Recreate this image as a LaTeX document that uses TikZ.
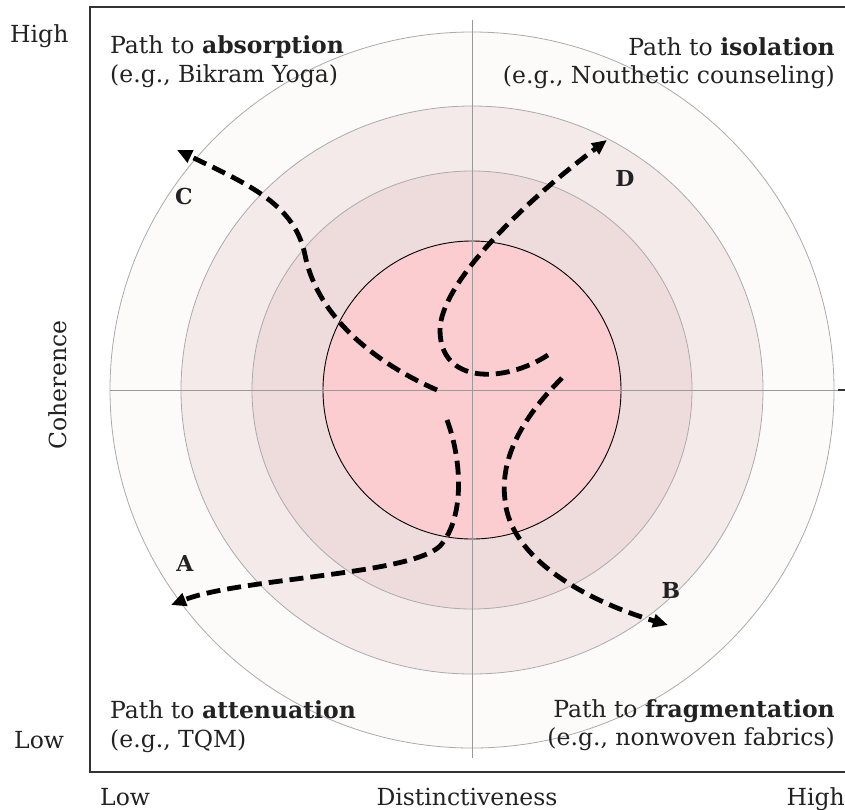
\documentclass[tikz,border=0pt]{standalone}
\usepackage{fontspec}
\setmainfont{DejaVu Serif}
\usetikzlibrary{arrows.meta}

\definecolor{ringA}{HTML}{FDFAFA}
\definecolor{ringB}{HTML}{F5EAEA}
\definecolor{ringC}{HTML}{EEDCDD}
\definecolor{coreFill}{HTML}{FBCDD0}
\definecolor{ringLine}{HTML}{ABABAB}
\definecolor{axisLine}{HTML}{999999}
\definecolor{frameLine}{HTML}{333333}
\definecolor{txt}{HTML}{222222}

\tikzset{
  lbl/.style={font=\fontsize{23.5}{27}\selectfont, text=txt, inner sep=0pt},
  letter/.style={font=\fontsize{22}{26}\selectfont\bfseries, text=txt, inner sep=0pt},
  pathline/.style={line width=4.8pt, dash pattern=on 14pt off 7pt,
    -{Triangle[length=15pt,width=13pt]}},
  ring/.style={draw=ringLine, line width=0.8pt},
  axis/.style={draw=axisLine, line width=0.8pt},
}

\begin{document}
\begin{tikzpicture}[x=1pt,y=-1pt]
\useasboundingbox (0,0) rectangle (845,809);

% concentric rings around the centre
\coordinate (O) at (472,390);
\fill[ringA] (O) ellipse [x radius=362, y radius=358];
\draw[ring] (O) ellipse [x radius=362, y radius=358];
\fill[ringB] (O) ellipse [x radius=291, y radius=284];
\draw[ring] (O) ellipse [x radius=291, y radius=284];
\fill[ringC] (O) ellipse [x radius=220, y radius=219];
\draw[ring] (O) ellipse [x radius=220, y radius=219];
\fill[coreFill] (O) circle (149);
\draw[black, line width=0.9pt] (O) circle (149);

% axes through the centre
\coordinate (axL) at (110,390);
\coordinate (axR) at (845,390);
\coordinate (axT) at (472,20);
\coordinate (axB) at (472,758);
\draw[axis] (axL) -- (axR);
\draw[axis] (axT) -- (axB);
\draw[frameLine, line width=1.6pt] (838,390) -- (845,390);

% frame
\coordinate (fTL) at (90,7);
\coordinate (fTR) at (850,7);
\coordinate (fBL) at (90,772);
\coordinate (fBR) at (850,772);
\draw[frameLine, line width=1.8pt] (fTR) -- (fTL) -- (fBL) -- (fBR);

% dashed development paths
\coordinate (cS) at (437,390);
\coordinate (cM) at (305,255);
\coordinate (cE) at (177,150);
\draw[pathline] (cS) .. controls (380,365) and (318,320) .. (cM)
  .. controls (295,205) and (250,185) .. (cE);

\coordinate (dS) at (548,355);
\coordinate (dM) at (440,330);
\coordinate (dE) at (607,140);
\draw[pathline] (dS) .. controls (505,383) and (440,385) .. (dM)
  .. controls (440,285) and (520,205) .. (dE);

\coordinate (bS) at (562,378);
\coordinate (bM) at (505,500);
\coordinate (bE) at (668,625);
\draw[pathline] (bS) .. controls (520,420) and (500,460) .. (bM)
  .. controls (510,560) and (590,602) .. (bE);

\coordinate (aS) at (447,420);
\coordinate (aM) at (440,546);
\coordinate (aE) at (171,605);
\draw[pathline] (aS) .. controls (462,460) and (465,518) .. (aM)
  .. controls (410,575) and (240,578) .. (aE);

% path letters
\node[letter] (lC) at (184,196) {C};
\node[letter] (lD) at (625,178) {D};
\node[letter] (lA) at (185,563) {A};
\node[letter] (lB) at (671,590) {B};

% quadrant captions
\node[lbl, anchor=base west] (q1a) at (110,53) {Path to \textbf{absorption}};
\node[lbl, anchor=base west] (q1b) at (110,82) {(e.g., Bikram Yoga)};
\node[lbl, anchor=base east] (q2a) at (835,55) {Path to \textbf{isolation}};
\node[lbl, anchor=base east] (q2b) at (835,83) {(e.g., Nouthetic counseling)};
\node[lbl, anchor=base west] (q3a) at (110,718) {Path to \textbf{attenuation}};
\node[lbl, anchor=base west] (q3b) at (110,747) {(e.g., TQM)};
\node[lbl, anchor=base east] (q4a) at (835,717) {Path to \textbf{fragmentation}};
\node[lbl, anchor=base east] (q4b) at (835,745) {(e.g., nonwoven fabrics)};

% axis captions
\node[lbl, anchor=base west] (yHigh) at (10,42) {High};
\node[lbl, anchor=base west] (yLow) at (14,748) {Low};
\node[lbl, rotate=90] (yName) at (58,385) {Coherence};
\node[lbl, anchor=base west] (xLow) at (100,805) {Low};
\node[lbl, anchor=base] (xName) at (467,805) {Distinctiveness};
\node[lbl, anchor=base east] (xHigh) at (845,805) {High};
\end{tikzpicture}
\end{document}
